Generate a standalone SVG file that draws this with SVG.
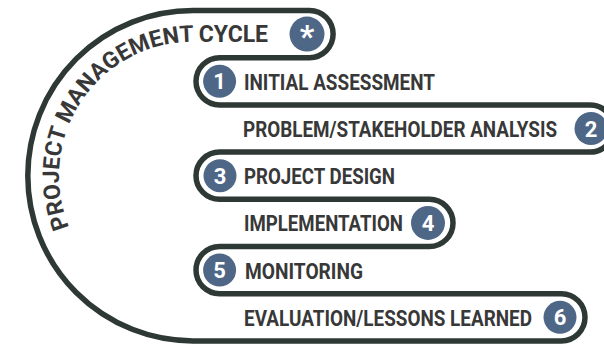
<svg xmlns="http://www.w3.org/2000/svg" width="604" height="347" viewBox="0 0 604 347">
<style>
.line{fill:none;stroke:#2e3935;stroke-width:5.5;stroke-linejoin:round}
.badge{fill:#4f6786}
.num{font-family:Roboto,"Liberation Sans",sans-serif;font-weight:700;font-size:22px;fill:#ffffff;text-anchor:middle}
.lbl{font-family:Roboto,"Liberation Sans",sans-serif;font-weight:700;font-size:22px;fill:#383838}
.title{font-family:Roboto,"Liberation Sans",sans-serif;font-weight:700;font-size:23px;fill:#383838}
</style>
<defs>
<path id="titlePath" d="M 69.2 227 A 134 134 0 0 1 193 41.7 L 290 41.7"/>
</defs>
<rect width="604" height="347" fill="#ffffff"/>
<g id="connectors">
<path class="line" d="M 193 340.9 A 165.2 165.2 0 0 1 193 10.5 L 309.5 10.5 A 23.6 23.6 0 0 1 309.5 57.7 L 219.6 57.7 A 23.6 23.6 0 0 0 219.6 104.9 L 590 104.9 A 23.6 23.6 0 0 1 590 152.1 L 219.6 152.1 A 23.6 23.6 0 0 0 219.6 199.3 L 429.4 199.3 A 23.6 23.6 0 0 1 429.4 246.5 L 219.6 246.5 A 23.6 23.6 0 0 0 219.6 293.7 L 561.4 293.7 A 23.6 23.6 0 0 1 561.4 340.9 Z"/>
</g>
<g id="title">
<text class="title"><textPath href="#titlePath" textLength="338">PROJECT MANAGEMENT CYCLE</textPath></text>
</g>
<g id="node-star">
<circle class="badge" cx="307" cy="34.1" r="17.5"/>
<text class="num" x="307" y="47" style="font-size:32px">*</text>
</g>
<g id="node-1">
<circle class="badge" cx="219.6" cy="81.3" r="16.5"/>
<text class="num" x="219.6" y="89.3">1</text>
<text class="lbl" x="244" y="89.8" textLength="191" lengthAdjust="spacingAndGlyphs">INITIAL ASSESSMENT</text>
</g>
<g id="node-2">
<circle class="badge" cx="591" cy="128.5" r="16.5"/>
<text class="num" x="591" y="136.5">2</text>
<text class="lbl" x="243" y="137" textLength="314" lengthAdjust="spacingAndGlyphs">PROBLEM/STAKEHOLDER ANALYSIS</text>
</g>
<g id="node-3">
<circle class="badge" cx="220" cy="175.7" r="16.5"/>
<text class="num" x="220" y="183.7">3</text>
<text class="lbl" x="244" y="184.2" textLength="151" lengthAdjust="spacingAndGlyphs">PROJECT DESIGN</text>
</g>
<g id="node-4">
<circle class="badge" cx="428" cy="222.9" r="17"/>
<text class="num" x="428" y="230.9">4</text>
<text class="lbl" x="244" y="231.4" textLength="159" lengthAdjust="spacingAndGlyphs">IMPLEMENTATION</text>
</g>
<g id="node-5">
<circle class="badge" cx="219.6" cy="270.1" r="16.5"/>
<text class="num" x="219.6" y="278.1">5</text>
<text class="lbl" x="245" y="278.6" textLength="118" lengthAdjust="spacingAndGlyphs">MONITORING</text>
</g>
<g id="node-6">
<circle class="badge" cx="560" cy="317.3" r="16.5"/>
<text class="num" x="560" y="325.3">6</text>
<text class="lbl" x="244" y="325.8" textLength="288" lengthAdjust="spacingAndGlyphs">EVALUATION/LESSONS LEARNED</text>
</g>
</svg>
